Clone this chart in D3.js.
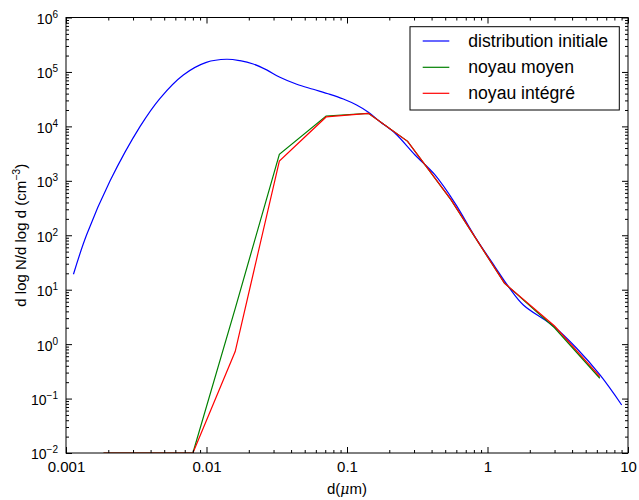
<!DOCTYPE html>
<html>
<head>
<meta charset="utf-8">
<script src="https://cdn.jsdelivr.net/npm/d3@7"></script>
<style>
body { margin: 0; background: #fff; }
svg { display: block; }
text { font-family: "Liberation Sans", Arial, sans-serif; fill: #000; }
</style>
</head>
<body>
<div id="plot"></div>
<script>
var W = 639, H = 500;
var plotLeft = 66, plotRight = 628, plotTop = 17.5, plotBottom = 453;

// distribution initiale (smooth curve)
var initD = [0.00113, 0.0014, 0.00206, 0.00337, 0.00467, 0.00684, 0.00997, 0.0139, 0.0173, 0.0215, 0.0268, 0.0333,
	0.0439, 0.0575, 0.0757, 0.0942, 0.117, 0.142, 0.172, 0.22, 0.305, 0.423, 0.588, 0.815, 1.13, 1.41, 1.80, 2.94, 4.31, 6.32, 9.02]
var initN = [19.2, 101, 1000, 10000, 32800, 88000, 150000, 171000, 161000, 140000, 109000, 79700,
	59300, 48000, 38800, 31800, 24700, 18200, 12200, 7460, 2980, 1280, 386, 94, 26.4, 11.4, 5.24, 2.15, 0.84, 0.271, 0.0762]

// sections for the two kernels
var binD = [0.00185, 0.008, 0.016, 0.033, 0.071, 0.142, 0.27, 0.55, 1.32, 3.0, 6.3]
var moyenN = [0.01, 0.01, 4.5, 3070, 15500, 17400, 5300, 445, 13.2, 2.0, 0.236]
var integreN = [0.01, 0.01, 0.73, 2310, 14900, 17400, 5300, 450, 13.2, 2.15, 0.252]

var xMajor = [0.001, 0.01, 0.1, 1, 10]
var xLabels = ['0.001', '0.01', '0.1', '1', '10']
var yExp = [-2, -1, 0, 1, 2, 3, 4, 5, 6]

var series = [
	{name: 'distribution initiale', d: initD, n: initN, color: '#0000ff', smooth: true},
	{name: 'noyau moyen', d: binD, n: moyenN, color: '#008000', smooth: false},
	{name: 'noyau intégré', d: binD, n: integreN, color: '#ff0000', smooth: false}
]

var svg = d3.select('#plot').append('svg')
	.attr('width', W)
	.attr('height', H)

var x = d3.scaleLog().domain([0.001, 10]).range([plotLeft, plotRight])
var y = d3.scaleLog().domain([0.01, 1e6]).range([plotBottom, plotTop])

var xMinor = x.ticks().filter(function(t){
	return xMajor.every(function(m){ return Math.abs(m - t) / m > 1e-6 })
})
var yMajor = yExp.map(function(e){ return Math.pow(10, e) })
var yMinor = y.ticks().filter(function(t){
	return yMajor.every(function(m){ return Math.abs(m - t) / m > 1e-6 })
})

svg.append('clipPath').attr('id', 'clip')
	.append('rect')
	.attr('x', plotLeft).attr('y', plotTop)
	.attr('width', plotRight - plotLeft).attr('height', plotBottom - plotTop)

var plot = svg.append('g').attr('clip-path', 'url(#clip)')
series.forEach(function(s){
	var pts = s.d.map(function(d, i){ return [d, s.n[i]] })
	var line = d3.line()
		.x(function(p){ return x(p[0]) })
		.y(function(p){ return y(p[1]) })
		.curve(s.smooth ? d3.curveCatmullRom.alpha(0.5) : d3.curveLinear)
	plot.append('path')
		.attr('d', line(pts))
		.attr('fill', 'none')
		.attr('stroke', s.color)
		.attr('stroke-width', 1.2)
})

function styleAxis(g){
	g.select('.domain').remove()
	g.selectAll('.tick line').attr('stroke', '#000').attr('stroke-width', 1)
}

// bottom
svg.append('g').attr('transform', 'translate(0,' + plotBottom + ')')
	.call(d3.axisBottom(x).tickValues(xMinor).tickSize(-3).tickFormat(''))
	.call(styleAxis)
var xb = svg.append('g').attr('transform', 'translate(0,' + plotBottom + ')')
	.call(d3.axisBottom(x).tickValues(xMajor).tickSize(-6).tickPadding(8.4)
		.tickFormat(function(d, i){ return xLabels[i] }))
	.call(styleAxis)
xb.selectAll('text').attr('font-size', 15).attr('font-family', '"Liberation Sans", Arial, sans-serif').attr('fill', '#000')

// top
svg.append('g').attr('transform', 'translate(0,' + plotTop + ')')
	.call(d3.axisTop(x).tickValues(xMinor).tickSize(-3).tickFormat(''))
	.call(styleAxis)
svg.append('g').attr('transform', 'translate(0,' + plotTop + ')')
	.call(d3.axisTop(x).tickValues(xMajor).tickSize(-6).tickFormat(''))
	.call(styleAxis)

// left
svg.append('g').attr('transform', 'translate(' + plotLeft + ',0)')
	.call(d3.axisLeft(y).tickValues(yMinor).tickSize(-3).tickFormat(''))
	.call(styleAxis)
var yl = svg.append('g').attr('transform', 'translate(' + plotLeft + ',0)')
	.call(d3.axisLeft(y).tickValues(yMajor).tickSize(-6).tickPadding(8).tickFormat(''))
	.call(styleAxis)
yl.selectAll('.tick text').each(function(d){
	var t = d3.select(this)
		.attr('font-family', '"Liberation Serif", "Times New Roman", serif')
		.attr('font-size', 14)
		.attr('dy', '0.42em')
		.attr('fill', '#000')
	var e = Math.round(Math.log10(d))
	t.append('tspan').text('10')
	t.append('tspan').attr('dy', -6).attr('font-size', 10)
		.text(e < 0 ? '\u2212' + (-e) : String(e))
})

// right
svg.append('g').attr('transform', 'translate(' + plotRight + ',0)')
	.call(d3.axisRight(y).tickValues(yMinor).tickSize(-3).tickFormat(''))
	.call(styleAxis)
svg.append('g').attr('transform', 'translate(' + plotRight + ',0)')
	.call(d3.axisRight(y).tickValues(yMajor).tickSize(-6).tickFormat(''))
	.call(styleAxis)

// frame
svg.append('rect')
	.attr('x', plotLeft).attr('y', plotTop)
	.attr('width', plotRight - plotLeft).attr('height', plotBottom - plotTop)
	.attr('fill', 'none').attr('stroke', '#000').attr('stroke-width', 1)

// axis labels
var xl = svg.append('text')
	.attr('x', (plotLeft + plotRight) / 2).attr('y', 494)
	.attr('text-anchor', 'middle').attr('font-size', 15)
xl.append('tspan').text('d(')
xl.append('tspan').attr('font-style', 'italic').attr('font-family', '"DejaVu Serif", serif').attr('font-size', 14).text('\u03bc')
xl.append('tspan').text('m)')

var ylab = svg.append('text')
	.attr('transform', 'translate(25.5,' + ((plotTop + plotBottom) / 2) + ') rotate(-90)')
	.attr('text-anchor', 'middle').attr('font-size', 15)
ylab.append('tspan').text('d log N/d log d (cm')
ylab.append('tspan').attr('dy', -6).attr('font-size', 10.5).text('\u22123')
ylab.append('tspan').attr('dy', 6).text(')')

// legend
var lg = svg.append('g')
lg.append('rect')
	.attr('x', 410).attr('y', 26.7)
	.attr('width', 209.3).attr('height', 83.3)
	.attr('fill', '#fff').attr('stroke', '#000').attr('stroke-width', 1)
var rowY = [41, 67.3, 93.3]
series.forEach(function(s, i){
	lg.append('line')
		.attr('x1', 422.7).attr('x2', 449.3)
		.attr('y1', rowY[i]).attr('y2', rowY[i])
		.attr('stroke', s.color).attr('stroke-width', 1.2)
	lg.append('text')
		.attr('x', 468.3).attr('y', rowY[i]).attr('dy', '0.32em')
		.attr('font-size', 17.6)
		.text(s.name)
})
</script>
</body>
</html>
